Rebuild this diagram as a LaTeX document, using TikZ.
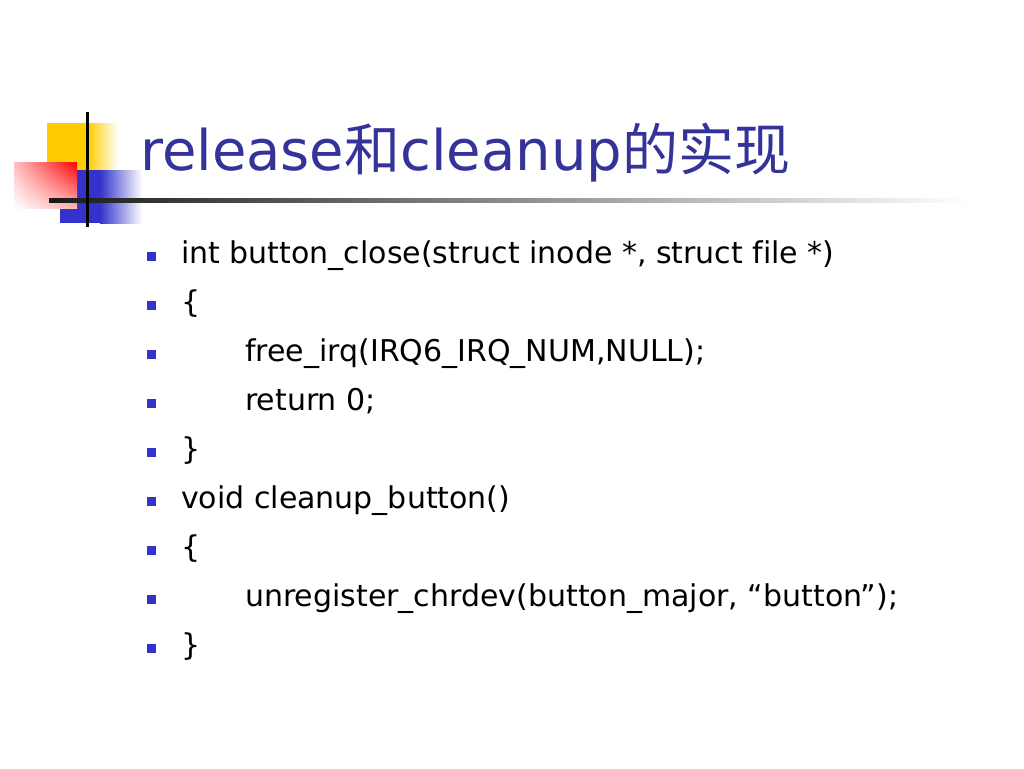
\documentclass[tikz,border=0pt]{standalone}
\usepackage{fontspec}
\setmainfont{DejaVu Sans}[Ligatures=NoCommon]
\newfontfamily\cjk{Noto Sans CJK SC}
\usepackage{tikz}
\usetikzlibrary{calc,shadings}
\definecolor{titleblue}{HTML}{333399}
\definecolor{markblue}{HTML}{3333CC}
\definecolor{deckyellow}{HTML}{FFCC00}
\tikzset{
	bullet/.style={fill=markblue, inner sep=0pt, minimum size=9pt},
	codeline/.style={anchor=base west, inner sep=0pt, font=\fontsize{30}{34}\selectfont}
}
\begin{document}
\begin{tikzpicture}[x=1pt, y=-1pt]
		%%%%% START %%%%%
		
		\useasboundingbox[fill=white] (0, 0) rectangle (1024, 768);
		
		% corner ornament
		\fill[deckyellow] (47, 123) rectangle (88, 170);
		\shade[left color=deckyellow, right color=white] (88, 123) rectangle (118, 170);
		\fill[markblue] (60, 170) rectangle (100, 223);
		\shade[left color=markblue, right color=white] (100, 170) rectangle (142, 223);
		\shade[upper right=red, upper left=red!25, lower right=red!30, lower left=white] (14, 162) rectangle (77, 208);
		\shade[left color=black!90, right color=white] (49, 198) rectangle (970, 202);
		\draw[line width=3pt] (87, 112) -- (87, 227);
		
		\node[anchor=base west, inner sep=0pt, text=titleblue, font=\fontsize{56}{60}\selectfont] (title) at (140, 170) {release{\cjk 和}cleanup{\cjk 的实现}};
		
		% code lines
		\node[codeline] (l1) at (181, 263) {int button\_close(struct inode *, struct file *)};
		\node[codeline] (l2) at (181, 312) {\{};
		\node[codeline] (l3) at (245, 361) {free\_irq(IRQ6\_IRQ\_NUM,NULL);};
		\node[codeline] (l4) at (245, 410) {return 0;};
		\node[codeline] (l5) at (181, 459) {\}};
		\node[codeline] (l6) at (181, 508) {void cleanup\_button()};
		\node[codeline] (l7) at (181, 557) {\{};
		\node[codeline] (l8) at (245, 606) {unregister\_chrdev(button\_major, “button”);};
		\node[codeline] (l9) at (181, 655) {\}};
		
		\node[bullet] (b1) at (151, 256) {};
		\node[bullet] (b2) at (151, 305) {};
		\node[bullet] (b3) at (151, 354) {};
		\node[bullet] (b4) at (151, 403) {};
		\node[bullet] (b5) at (151, 452) {};
		\node[bullet] (b6) at (151, 501) {};
		\node[bullet] (b7) at (151, 550) {};
		\node[bullet] (b8) at (151, 599) {};
		\node[bullet] (b9) at (151, 648) {};
		
		%%%%% END %%%%%
	\end{tikzpicture}
\end{document}
